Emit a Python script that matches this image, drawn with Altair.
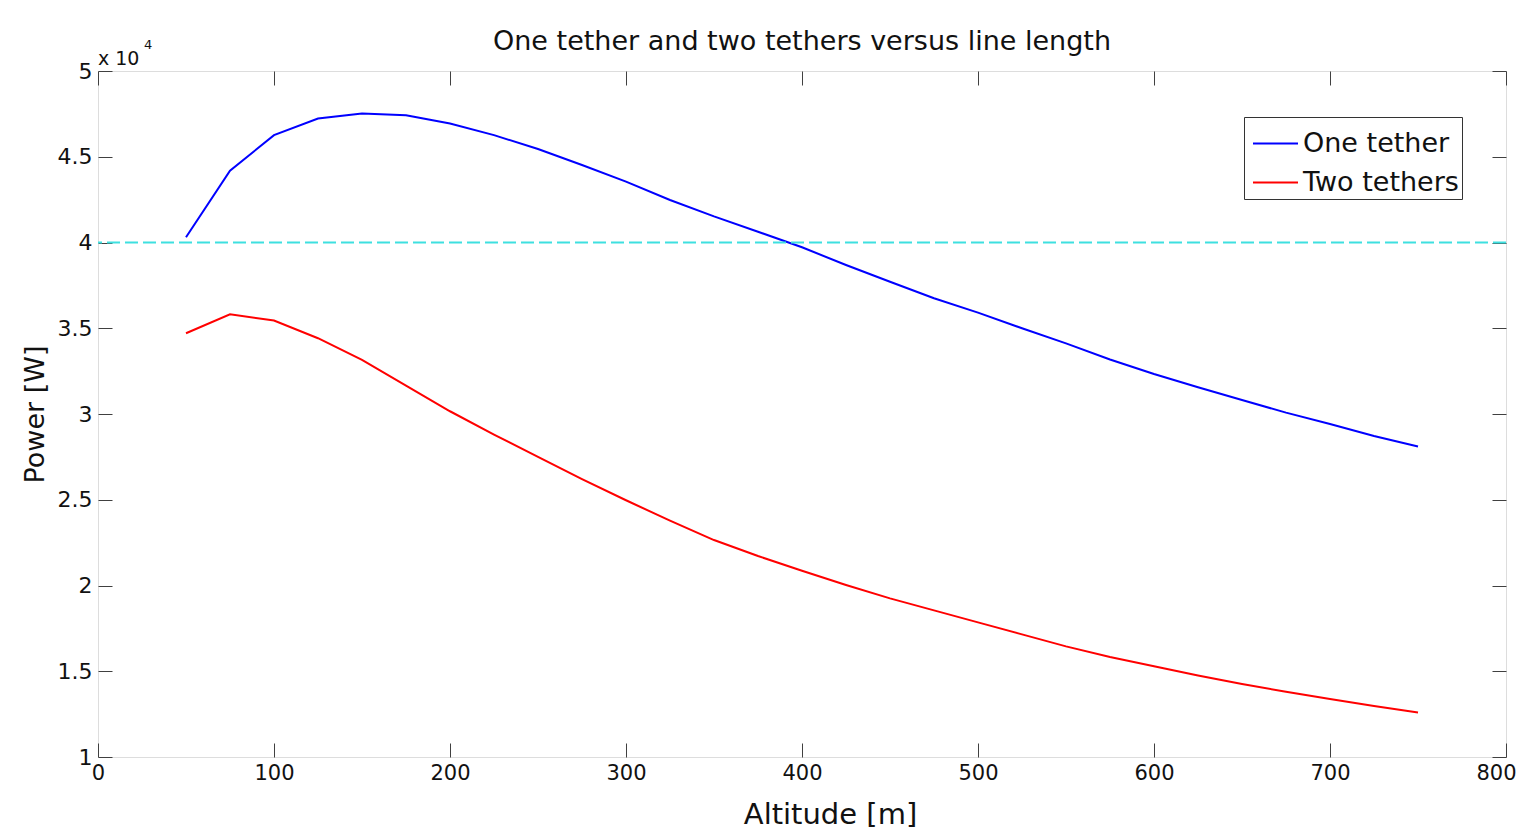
import altair as alt
import pandas as pd

altitude = [50, 75, 100, 125, 150, 175, 200, 225, 250, 275, 300, 325, 350, 375, 400,
            425, 450, 475, 500, 525, 550, 575, 600, 625, 650, 675, 700, 725, 750]
one_tether = [40310, 44190, 46260, 47230, 47520, 47420, 46940, 46260, 45450, 44520,
              43550, 42480, 41520, 40630, 39720, 38690, 37710, 36750, 35910, 35000,
              34120, 33180, 32330, 31560, 30820, 30080, 29420, 28720, 28110]
two_tethers = [34710, 35810, 35450, 34420, 33160, 31650, 30160, 28800, 27500, 26200,
               24970, 23780, 22650, 21720, 20860, 20030, 19250, 18550, 17850, 17150,
               16450, 15830, 15290, 14750, 14260, 13800, 13380, 12980, 12600]
series_names = ["One tether", "Two tethers"]
series_colors = ["#0000ff", "#ff0000"]
threshold = [40000]
x_ticks = [0, 100, 200, 300, 400, 500, 600, 700, 800]
y_ticks = [10000, 15000, 20000, 25000, 30000, 35000, 40000, 45000, 50000]
title_text = "One tether and two tethers versus line length"

df = pd.DataFrame({
    "Altitude": altitude * 2,
    "Power": one_tether + two_tethers,
    "Series": [series_names[0]] * len(altitude) + [series_names[1]] * len(altitude),
})
thr = pd.DataFrame({"Power": threshold})

FONT = "DejaVu Sans"
AX = "#404040"
TXT = "#111111"
W, H = 1408, 686

xscale = alt.Scale(domain=[0, 800], nice=False, zero=False)
yscale = alt.Scale(domain=[10000, 50000], nice=False, zero=False)

lines = alt.Chart(df).mark_line(strokeWidth=2).encode(
    x=alt.X("Altitude:Q", scale=xscale,
            axis=alt.Axis(orient="bottom", values=x_ticks, offset=-14, tickSize=14,
                          domain=False, grid=False, tickColor=AX, labelColor=TXT,
                          labelFont=FONT, labelFontSize=21, labelPadding=5,
                          labelFlush=False,
                          labelOffset={"condition": {"test": "datum.value >= 800", "value": -10},
                                       "value": 0},
                          title="Altitude [m]", titleFont=FONT, titleFontSize=29,
                          titleFontWeight="normal", titleColor=TXT,
                          titleX=732, titleY=57, titleBaseline="top")),
    y=alt.Y("Power:Q", scale=yscale,
            axis=alt.Axis(orient="left", values=y_ticks, offset=-14, tickSize=14,
                          domain=False, grid=False, tickColor=AX, labelColor=TXT,
                          labelFont=FONT, labelFontSize=22, labelPadding=6,
                          labelFlush=False,
                          labelExpr="datum.value / 10000",
                          title="Power [W]", titleFont=FONT, titleFontSize=27,
                          titleFontWeight="normal", titleColor=TXT, titlePadding=8)),
    color=alt.Color("Series:N",
                    scale=alt.Scale(domain=series_names, range=series_colors),
                    legend=alt.Legend(orient="none", legendX=1146, legendY=46,
                                      title=None, symbolType="stroke",
                                      symbolSize=2025, symbolStrokeWidth=2,
                                      symbolOffset=5,
                                      labelFont=FONT, labelFontSize=27,
                                      labelColor=TXT, labelOffset=4,
                                      labelExpr="datum.label + '\u00a0'",
                                      strokeColor="#333", fillColor="white",
                                      padding=3, rowPadding=2, labelLimit=400)),
)

ref = alt.Chart(thr).mark_rule(color="#3ee0e0", strokeWidth=2, strokeDash=[13, 5]).encode(
    y=alt.Y("Power:Q", scale=yscale,
            axis=alt.Axis(orient="right", values=y_ticks, offset=-14, tickSize=14,
                          domain=False, grid=False, labels=False, title=None,
                          tickColor=AX)),
)

top_ticks = alt.Chart(thr).mark_rule(opacity=0).encode(
    x=alt.X("x:Q", scale=xscale,
            axis=alt.Axis(orient="top", values=x_ticks, offset=-14, tickSize=14,
                          domain=False, grid=False, labels=False, title=None,
                          tickColor=AX)),
    y=alt.value(0),
).transform_calculate(x="0")

title_mark = alt.Chart(thr).mark_text(align="center", baseline="alphabetic", font=FONT,
                                      fontSize=27, color=TXT).encode(
    x=alt.value(W / 2), y=alt.value(-21), text=alt.value(title_text))
exp_text = alt.Chart(thr).mark_text(align="left", baseline="alphabetic", font=FONT,
                                    fontSize=19, color=TXT).encode(
    x=alt.value(0), y=alt.value(-6), text=alt.value("x 10"))
exp_sup = alt.Chart(thr).mark_text(align="left", baseline="alphabetic", font=FONT,
                                   fontSize=13, color=TXT).encode(
    x=alt.value(46), y=alt.value(-22), text=alt.value("4"))

chart = alt.layer(lines, ref, top_ticks, title_mark, exp_text, exp_sup).resolve_axis(
    x="independent", y="independent"
).properties(
    width=W, height=H,
    autosize=alt.AutoSizeParams(type="none"),
    padding={"left": 90, "top": 63, "right": 10, "bottom": 77},
).configure_view(stroke=AX, strokeWidth=1.2).configure(background="white")

chart.save("out.html", embed_options={"renderer": "svg", "actions": False})
